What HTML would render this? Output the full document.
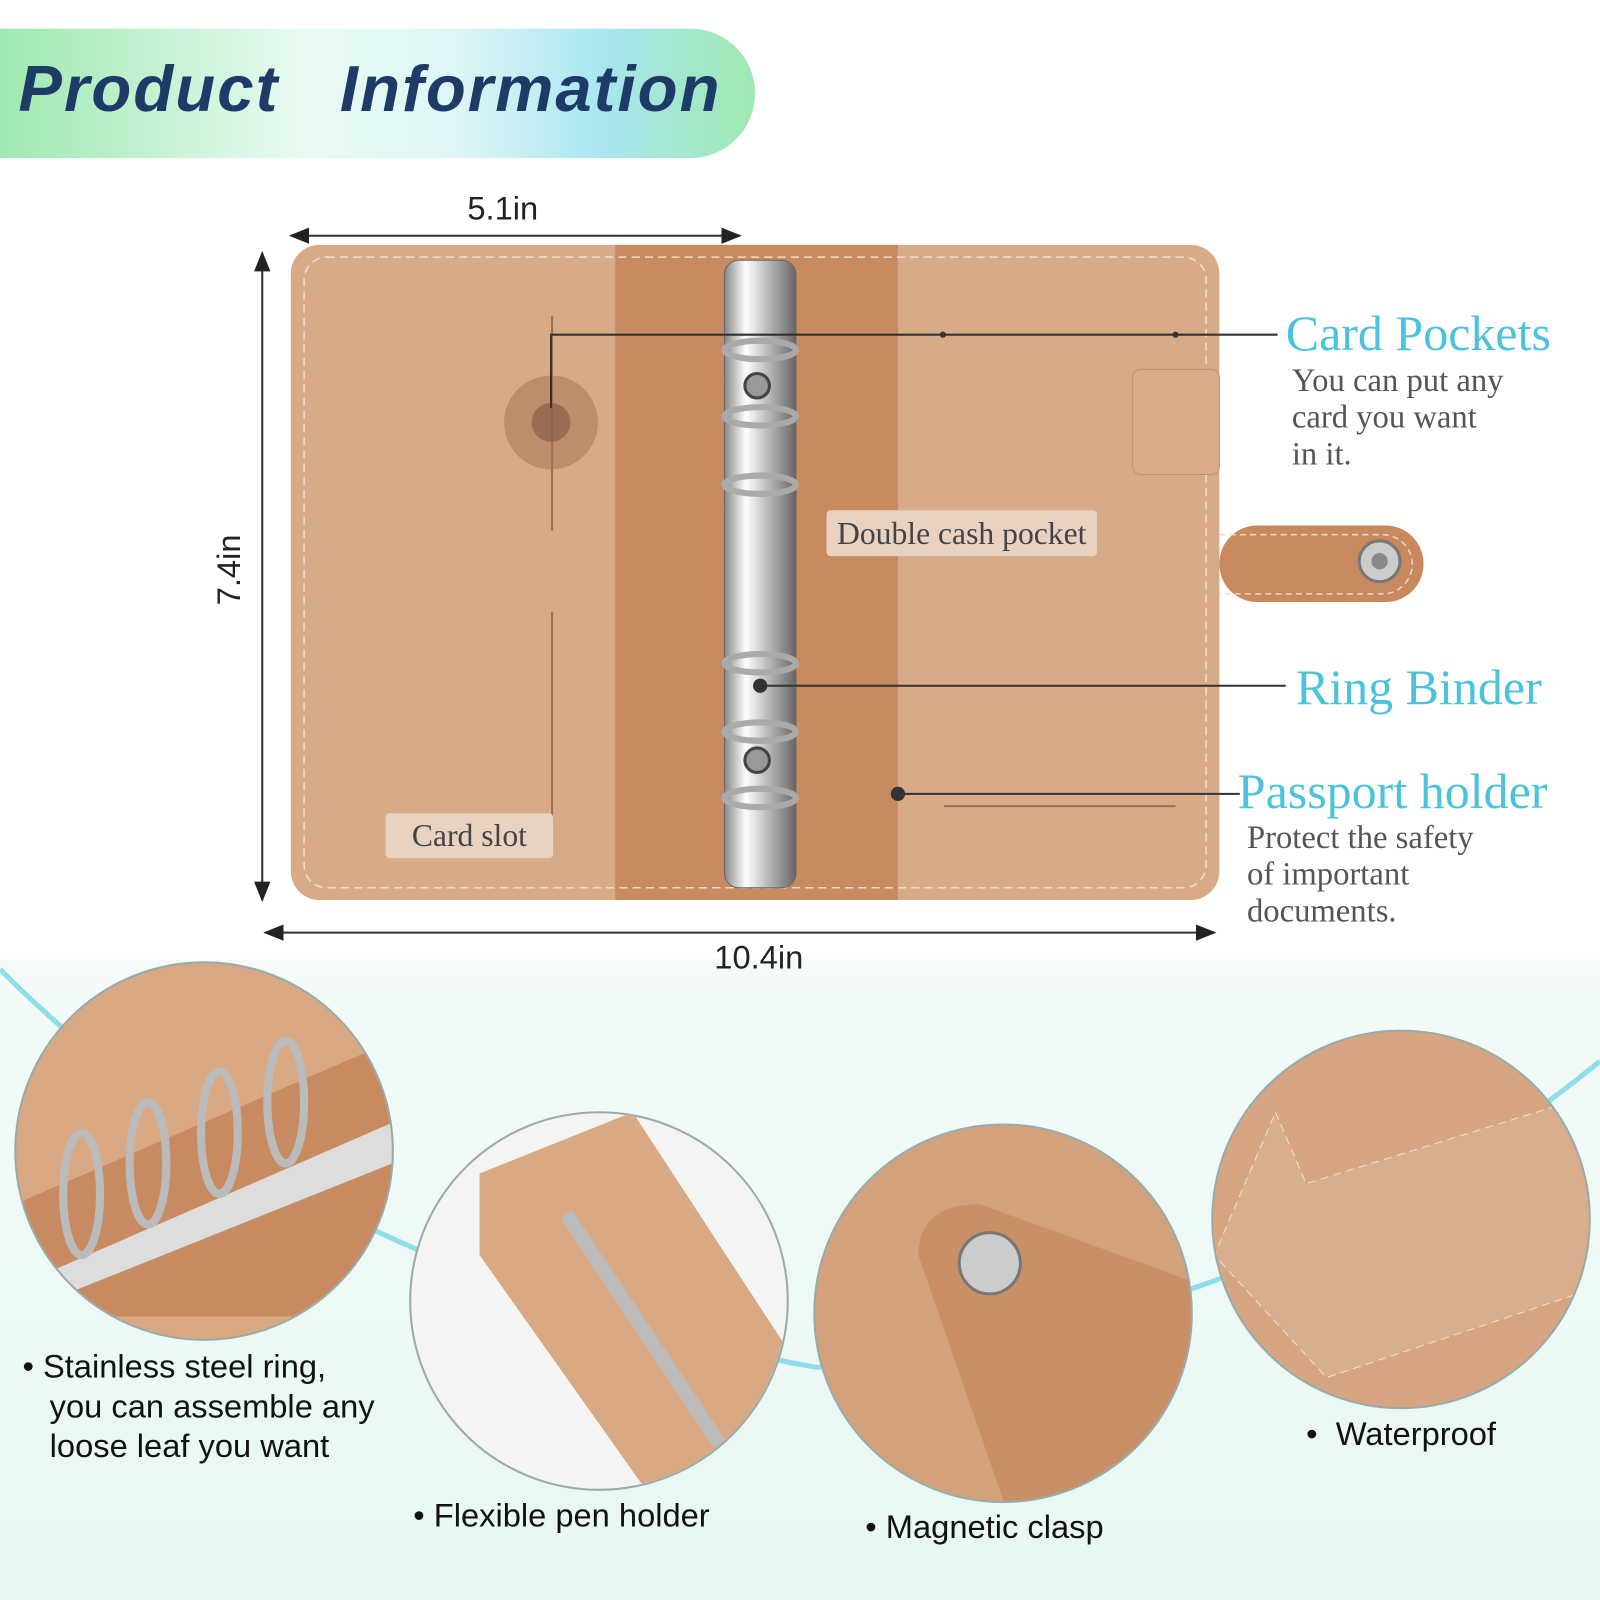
<!DOCTYPE html>
<html><head><meta charset="utf-8"><style>
html,body{margin:0;padding:0;width:1600px;height:1600px;overflow:hidden;background:#fff}
#s{position:absolute;left:0;top:0;width:1568px;height:1568px;transform:scale(1.020408);transform-origin:0 0;font-family:"Liberation Sans",sans-serif}
.a{position:absolute}
.serif{font-family:"Liberation Serif",serif}
.cy{color:#4cc3dc}
.gr{color:#555}
</style></head><body><div id="s">
<div class="a" style="left:0;top:940px;width:1568px;height:628px;background:linear-gradient(180deg,#f4fbf9,#e6f7f1)"></div>
<svg class="a" style="left:0;top:0" width="1568" height="1568">
<path d="M0 950 Q 300 1250 800 1340 Q 1250 1300 1568 1040" stroke="#8fdcea" stroke-width="5" fill="none"/>
</svg>
<div class="a" style="left:0;top:28px;width:740px;height:127px;border-radius:0 64px 64px 0;background:linear-gradient(90deg,#9fe8b0,#e8fbf2 40%,#dff6f6 60%,#a9e6f0 80%,#9fe8b0)"></div>
<div class="a" style="left:18px;top:50px;font-size:64px;font-style:italic;font-weight:bold;color:#1d3b66;letter-spacing:2px;white-space:pre">Product   Information</div>

<svg class="a" style="left:0;top:0" width="1568" height="960">
<defs><linearGradient id="m" x1="0" x2="1"><stop offset="0" stop-color="#888"/><stop offset=".3" stop-color="#fff"/><stop offset=".6" stop-color="#bbb"/><stop offset="1" stop-color="#666"/></linearGradient>
<marker id="ar" markerWidth="10" markerHeight="8" refX="9" refY="4" orient="auto-start-reverse"><path d="M0 0L10 4L0 8z" fill="#222"/></marker></defs>
<rect x="1195" y="515" width="200" height="75" rx="37" fill="#c9895e"/>
<path d="M1195 524H1355a28 28 0 0 1 0 58H1195" stroke="#f0d8c4" stroke-dasharray="6 4" fill="none" stroke-width="1.5"/>
<circle cx="1352" cy="550" r="20" fill="#ccc" stroke="#777" stroke-width="3"/><circle cx="1352" cy="550" r="8" fill="#888"/>
<rect x="285" y="240" width="910" height="642" rx="28" fill="#d8ab88"/>
<rect x="603" y="240" width="277" height="642" fill="#c88a60"/>
<rect x="298" y="252" width="884" height="618" rx="22" fill="none" stroke="#f2dccb" stroke-dasharray="8 5" stroke-width="1.5"/>
<rect x="1110" y="362" width="85" height="103" rx="8" fill="#d9ad8a" stroke="#c09070"/>
<line x1="541" y1="310" x2="541" y2="520" stroke="#9e6f52" stroke-width="2"/>
<line x1="541" y1="600" x2="541" y2="810" stroke="#9e6f52" stroke-width="2"/>
<line x1="925" y1="790" x2="1152" y2="790" stroke="#9e6f52" stroke-width="2"/>
<rect x="710" y="255" width="70" height="615" rx="14" fill="url(#m)" stroke="#666"/>
<g fill="none" stroke="#aaa" stroke-width="6">
<ellipse cx="745" cy="343" rx="35" ry="9"/><ellipse cx="745" cy="408" rx="35" ry="9"/><ellipse cx="745" cy="475" rx="35" ry="9"/>
<ellipse cx="745" cy="650" rx="35" ry="9"/><ellipse cx="745" cy="717" rx="35" ry="9"/><ellipse cx="745" cy="782" rx="35" ry="9"/></g>
<circle cx="742" cy="378" r="12" fill="#999" stroke="#444" stroke-width="3"/><circle cx="742" cy="745" r="12" fill="#999" stroke="#444" stroke-width="3"/>
<circle cx="540" cy="414" r="46" fill="#a77656" opacity=".55"/><circle cx="540" cy="414" r="19" fill="#8a6048" opacity=".7"/>
<g stroke="#333" stroke-width="2" fill="none">
<polyline points="540,400 540,328 1252,328"/>
<line x1="745" y1="672" x2="1260" y2="672"/>
<line x1="880" y1="778" x2="1215" y2="778"/>
<line x1="285" y1="231" x2="725" y2="231" marker-start="url(#ar)" marker-end="url(#ar)"/>
<line x1="257" y1="248" x2="257" y2="882" marker-start="url(#ar)" marker-end="url(#ar)"/>
<line x1="260" y1="914" x2="1190" y2="914" marker-start="url(#ar)" marker-end="url(#ar)"/>
</g>
<circle cx="880" cy="778" r="7" fill="#333"/><circle cx="745" cy="672" r="7" fill="#333"/>
<circle cx="924" cy="328" r="3" fill="#333"/><circle cx="1152" cy="328" r="3" fill="#333"/>
</svg>
<div class="a" style="left:458px;top:186px;font-size:32px;color:#222">5.1in</div>
<div class="a" style="left:190px;top:540px;font-size:32px;color:#222;transform:rotate(-90deg)">7.4in</div>
<div class="a" style="left:700px;top:920px;font-size:32px;color:#222">10.4in</div>
<div class="a serif" style="left:810px;top:500px;width:265px;height:45px;background:#ead2c0;border-radius:4px;font-size:31px;color:#444;text-align:center;line-height:45px">Double cash pocket</div>
<div class="a serif" style="left:378px;top:797px;width:164px;height:44px;background:#ead2c0;border-radius:4px;font-size:31px;color:#444;text-align:center;line-height:44px">Card slot</div>
<div class="a serif cy" style="left:1260px;top:298px;font-size:49px">Card Pockets</div>
<div class="a serif gr" style="left:1266px;top:354px;font-size:32px;line-height:36px">You can put any<br>card you want<br>in it.</div>
<div class="a serif cy" style="left:1270px;top:645px;font-size:49px">Ring Binder</div>
<div class="a serif cy" style="left:1213px;top:747px;font-size:49px">Passport holder</div>
<div class="a serif gr" style="left:1222px;top:802px;font-size:32px;line-height:36px">Protect the safety<br>of important<br>documents.</div>

<svg class="a" style="left:0;top:930px" width="1568" height="560">
<g stroke="#9aa" stroke-width="2">
<circle cx="200" cy="198" r="185" fill="#d9a983"/>
<circle cx="587" cy="345" r="185" fill="#f4f4f2"/>
<circle cx="983" cy="357" r="185" fill="#d3a27c"/>
<circle cx="1373" cy="265" r="185" fill="#d6a682"/></g>
<clipPath id="c1"><circle cx="200" cy="198" r="184"/></clipPath>
<g clip-path="url(#c1)"><path d="M15 250L385 90V360H15z" fill="#c88a60"/><path d="M40 320L385 170V210L60 340z" fill="#ddd"/>
<g fill="none" stroke="#bbb" stroke-width="8"><ellipse cx="80" cy="240" rx="18" ry="60"/><ellipse cx="145" cy="210" rx="18" ry="60"/><ellipse cx="215" cy="180" rx="18" ry="60"/><ellipse cx="280" cy="150" rx="18" ry="60"/></g></g>
<clipPath id="c2"><circle cx="587" cy="345" r="184"/></clipPath>
<g clip-path="url(#c2)"><path d="M470 220L620 160L790 420L640 540L470 300z" fill="#d8a983"/><line x1="555" y1="260" x2="705" y2="485" stroke="#bbb" stroke-width="14"/></g>
<clipPath id="c3"><circle cx="983" cy="357" r="184"/></clipPath>
<g clip-path="url(#c3)"><path d="M900 300Q900 250 960 250L1180 330V560H990z" fill="#c99068"/><circle cx="970" cy="308" r="30" fill="#ccc" stroke="#777" stroke-width="3"/></g>
<clipPath id="c4"><circle cx="1373" cy="265" r="184"/></clipPath>
<g clip-path="url(#c4)"><path d="M1250 160L1280 230L1570 140V330L1300 420L1190 300z" fill="#d9ae8c" stroke="#f2e0d0" stroke-dasharray="8 5"/></g>
</svg>
<div class="a" style="left:22px;top:1320px;font-size:32px;color:#111;line-height:39px">• Stainless steel ring,<br>&nbsp;&nbsp;&nbsp;you can assemble any<br>&nbsp;&nbsp;&nbsp;loose leaf you want</div>
<div class="a" style="left:405px;top:1467px;font-size:32px;color:#111">• Flexible pen holder</div>
<div class="a" style="left:848px;top:1478px;font-size:32px;color:#111">• Magnetic clasp</div>
<div class="a" style="left:1280px;top:1387px;font-size:32px;color:#111">•&nbsp; Waterproof</div>
</div></body></html>
